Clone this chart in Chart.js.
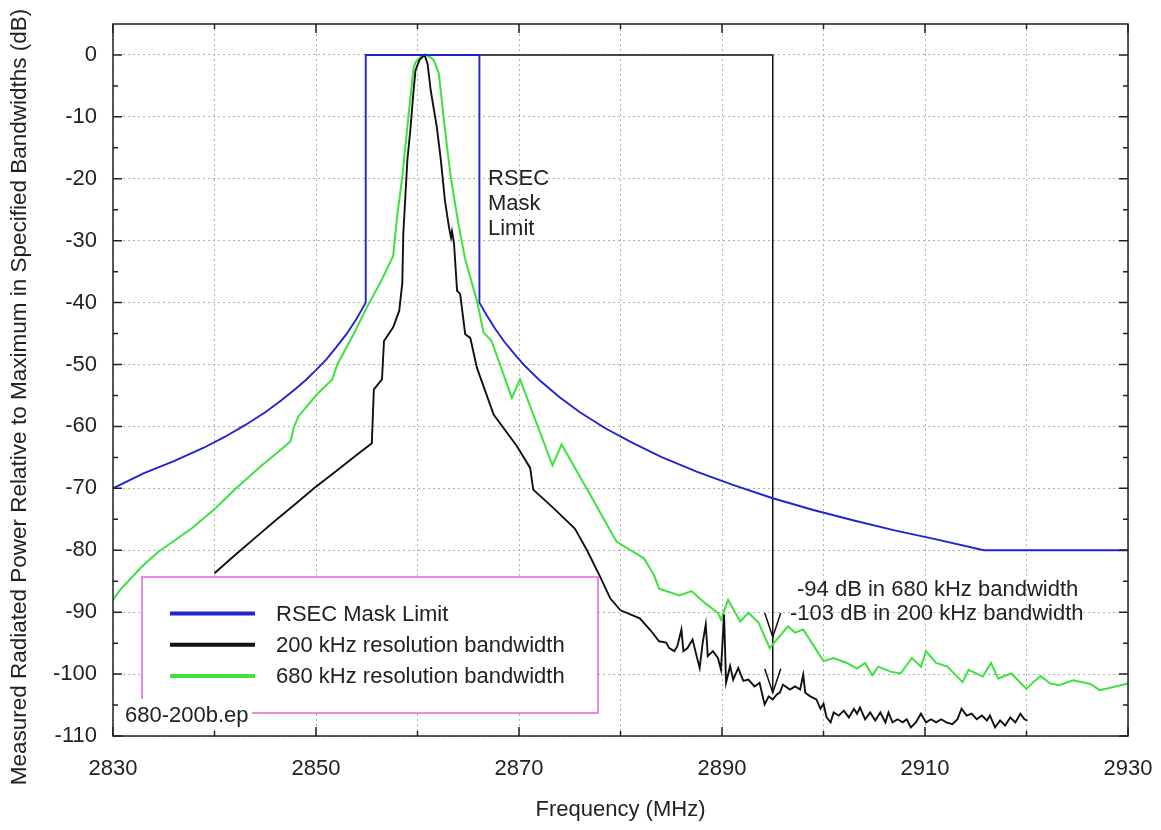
<!DOCTYPE html>
<html>
<head>
<meta charset="utf-8">
<title>680-200b</title>
<script src="https://cdn.jsdelivr.net/npm/chart.js@4.4.1/dist/chart.umd.min.js"></script>
<style>
  html, body { margin: 0; padding: 0; background: #fff; }
  #wrap { width: 1161px; height: 830px; }
</style>
</head>
<body>
<div id="wrap"><canvas id="spectrumChart" width="1161" height="830"></canvas></div>
<script>
// values (MHz / dB)
const maskFreq = [2830, 2833, 2836, 2839, 2841, 2843, 2845, 2846.5, 2848, 2849,
  2850, 2851, 2852, 2853, 2854, 2854.9, 2854.9, 2866.1, 2866.1, 2866.8,
  2867.6, 2868.5, 2869.5, 2870.5, 2872, 2874, 2876, 2878.5, 2881, 2884,
  2887.5, 2891, 2895, 2899, 2903, 2907, 2911, 2915.8, 2930];
const maskDb = [-70, -67.6, -65.6, -63.4, -61.7, -59.8, -57.7, -55.9, -53.9, -52.5,
  -50.9, -49.2, -47.2, -45.1, -42.6, -40, 0, 0, -40, -42.0,
  -44.1, -46.2, -48.2, -50.1, -52.5, -55.3, -57.7, -60.3, -62.5, -64.9,
  -67.3, -69.4, -71.6, -73.5, -75.2, -76.8, -78.2, -80, -80];

const rbw200Freq = [2840, 2842, 2844, 2846, 2848, 2849.8, 2852, 2854, 2855.5, 2855.7,
  2856.5, 2856.7, 2857.6, 2858.2, 2858.5, 2858.6, 2859.0, 2859.3, 2859.6, 2859.8,
  2860.2, 2860.7, 2861.0, 2861.3, 2861.9, 2862.3, 2862.7, 2863.1, 2863.3, 2863.4,
  2863.6, 2863.9, 2864.2, 2864.7, 2865.2, 2865.85, 2867.5, 2869.8, 2871.1, 2871.4,
  2873.4, 2875.5, 2876.7, 2878.0, 2879.0, 2880.0, 2881.9, 2883.0, 2883.8, 2884.5,
  2884.8, 2885.3, 2885.6, 2886.0, 2886.2, 2886.6, 2887.1, 2887.5, 2887.8, 2888.1,
  2888.4, 2888.6, 2889.1, 2889.6, 2889.9, 2890.2, 2890.4, 2890.8, 2891.1, 2891.6,
  2892.1, 2892.6, 2893.2, 2893.7, 2894.2, 2894.6, 2895.0, 2895.4, 2895.7, 2896.0,
  2896.7, 2897.2, 2897.7, 2898.0, 2898.2, 2898.7, 2899.3, 2899.7, 2900.0, 2900.3,
  2900.7, 2901.0, 2901.5, 2902.0, 2902.5, 2903.0, 2903.3, 2903.6, 2904.1, 2904.6,
  2905.1, 2905.6, 2906.1, 2906.4, 2906.8, 2907.3, 2907.8, 2908.2, 2908.6, 2909.1,
  2909.6, 2910.1, 2910.6, 2911.1, 2911.6, 2912.1, 2912.7, 2913.2, 2913.6, 2914.1,
  2914.6, 2915.1, 2915.6, 2916.1, 2916.4, 2916.9, 2917.4, 2917.9, 2918.4, 2918.9,
  2919.4, 2919.8, 2920.1];
const rbw200Db = [-83.7, -80.8, -78.0, -75.2, -72.5, -70.0, -67.2, -64.6, -62.7, -54.0,
  -52.4, -46.2, -44.0, -41.3, -36.9, -28.9, -17.0, -12.0, -6.0, -2.5,
  -0.8, 0, -1.5, -5.7, -11.6, -17.0, -23.5, -27.8, -29.5, -28.5,
  -30.5, -38.1, -38.6, -45.1, -45.7, -50.5, -58.1, -63.2, -66.7, -70.2,
  -73.2, -76.5, -80.0, -84.3, -87.8, -89.7, -91.0, -93.0, -94.7, -94.9,
  -95.8, -96.3, -95.5, -92.8, -96.3, -95.8, -94.4, -97.1, -99.0, -94.9,
  -92.0, -97.1, -96.3, -97.4, -99.3, -90.4, -101.4, -98.7, -100.9, -99.0,
  -101.1, -100.9, -102.0, -101.4, -104.9, -103.6, -104.1, -103.3, -103.0, -101.7,
  -102.5, -102.0, -102.5, -100.1, -103.0, -103.6, -104.1, -105.6, -104.8, -107.0,
  -107.8, -106.2, -106.7, -105.9, -107.0, -105.6, -106.4, -105.4, -107.3, -106.2,
  -107.5, -106.2, -107.8, -106.2, -107.8, -107.3, -107.8, -107.3, -108.6, -107.8,
  -106.4, -107.8, -107.3, -107.8, -107.3, -107.8, -108.1, -107.3, -105.6, -106.7,
  -106.4, -107.3, -106.7, -107.5, -106.7, -108.6, -107.5, -108.3, -107.0, -107.8,
  -106.4, -107.3, -107.5];

const rbw680Freq = [2830, 2830.8, 2831.5, 2832.8, 2834.5, 2836, 2837.8, 2840.1, 2842, 2844.5,
  2846.5, 2847.5, 2847.8, 2848.3, 2850.1, 2851.6, 2852.1, 2853.7, 2855.0, 2856.3,
  2857.6, 2858.0, 2858.5, 2859.1, 2859.6, 2859.8, 2860.3, 2860.9, 2861.6, 2862.1,
  2862.7, 2863.3, 2864.0, 2864.7, 2865.9, 2866.5, 2867.3, 2869.3, 2870.1, 2873.3,
  2874.2, 2877.0, 2879.6, 2881.0, 2882.3, 2883.3, 2883.8, 2885.8, 2887.0, 2888.3,
  2889.6, 2889.9, 2890.6, 2891.8, 2892.6, 2893.6, 2894.7, 2895.0, 2896.5, 2897.2,
  2898.0, 2900.0, 2901.0, 2902.3, 2903.3, 2904.1, 2904.8, 2905.4, 2906.6, 2907.6,
  2908.7, 2909.6, 2910.1, 2911.1, 2912.2, 2913.7, 2914.3, 2915.7, 2916.5, 2917.2,
  2918.5, 2920.0, 2920.8, 2921.4, 2922.3, 2923.2, 2924.6, 2926.3, 2927.2, 2929.3,
  2930];
const rbw680Db = [-88, -86.2, -85, -82.7, -80.2, -78.5, -76.4, -73.2, -70.2, -66.5,
  -63.8, -62.4, -60.2, -58.3, -54.8, -52.4, -50, -45.1, -40.8, -36.9,
  -32.5, -26, -19.7, -10, -2.2, -1.2, -0.3, 0, -0.8, -3.0,
  -12, -20, -27, -33, -40, -44.8, -46.2, -55.4, -52.4, -66.3,
  -62.9, -71, -78.6, -80, -81.3, -84, -86.2, -87.3, -86.6, -88.5,
  -90.1, -91.2, -88.0, -91.5, -90.1, -91.7, -95.8, -95.2, -92.3, -93.3,
  -92.8, -97.9, -97.4, -98.2, -99.1, -98.2, -100.2, -98.8, -99.6, -99.9,
  -97.4, -98.8, -96.3, -98.2, -98.8, -101.3, -99.3, -100.4, -98.2, -100.7,
  -99.9, -102.4, -101.1, -100.3, -101.5, -101.8, -101, -101.6, -102.6, -101.8,
  -101.5];

// pointer from the peak over to 2895 MHz and down to the two readings
const arrowFreq = [2860.8, 2895, 2895];
const arrowDb = [0, 0, -103];
const arrowTipDb = [-94, -103];

const xTickValues = [2830, 2840, 2850, 2860, 2870, 2880, 2890, 2900, 2910, 2920, 2930];
const xTickLabels = [2830, 2850, 2870, 2890, 2910, 2930];
const yTickValues = [-110, -100, -90, -80, -70, -60, -50, -40, -30, -20, -10, 0];
const yMinorTicks = [-105, -95, -85, -75, -65, -55, -45, -35, -25, -15, -5];

const FONT = "'Liberation Sans', Arial, Helvetica, sans-serif";
const TEXT = '#222';

function pts(xs, ys) {
  return xs.map((v, i) => ({ x: v, y: ys[i] }));
}

const notesPlugin = {
  id: 'notes',
  beforeDatasetsDraw(chart) {
    // legend box is opaque over the grid
    const ctx = chart.ctx;
    ctx.save();
    ctx.fillStyle = '#fff';
    ctx.fillRect(142, 577, 456, 136);
    ctx.restore();
  },
  afterDraw(chart) {
    const { ctx, chartArea: a, scales: { x, y } } = chart;
    ctx.save();

    // inward ticks on all four sides + frame
    ctx.strokeStyle = '#222';
    ctx.lineWidth = 1.5;
    ctx.beginPath();
    xTickValues.forEach(v => {
      const px = x.getPixelForValue(v);
      const len = xTickLabels.includes(v) ? 9 : 5;
      ctx.moveTo(px, a.bottom); ctx.lineTo(px, a.bottom - len);
      ctx.moveTo(px, a.top); ctx.lineTo(px, a.top + len);
    });
    yTickValues.concat(yMinorTicks).forEach(v => {
      const py = y.getPixelForValue(v);
      const len = yTickValues.includes(v) ? 9 : 5;
      ctx.moveTo(a.left, py); ctx.lineTo(a.left + len, py);
      ctx.moveTo(a.right, py); ctx.lineTo(a.right - len, py);
    });
    ctx.stroke();
    ctx.strokeRect(a.left, a.top, a.right - a.left, a.bottom - a.top);

    // arrow heads
    ctx.strokeStyle = '#111';
    ctx.lineWidth = 1.5;
    const ax = x.getPixelForValue(arrowFreq[arrowFreq.length - 1]);
    arrowTipDb.forEach(d => {
      const ty = y.getPixelForValue(d);
      ctx.beginPath();
      ctx.moveTo(ax - 8, ty - 24);
      ctx.lineTo(ax, ty);
      ctx.lineTo(ax + 8, ty - 24);
      ctx.stroke();
    });

    // text notes
    ctx.fillStyle = TEXT;
    ctx.font = '22px ' + FONT;
    ctx.textAlign = 'left';
    ctx.textBaseline = 'alphabetic';
    ['RSEC', 'Mask', 'Limit'].forEach((t, i) => ctx.fillText(t, 488, 185 + i * 25));
    ctx.fillText('-94 dB in 680 kHz bandwidth', 797, 596);
    ctx.fillText('-103 dB in 200 kHz bandwidth', 790, 620);

    // legend
    ctx.strokeStyle = '#dd66dd';
    ctx.lineWidth = 1.5;
    ctx.strokeRect(142, 577, 456, 136);
    chart.data.datasets.slice(0, 3).forEach((ds, i) => {
      const ly = 613.5 + i * 31.3;
      ctx.strokeStyle = ds.borderColor;
      ctx.lineWidth = 4;
      ctx.beginPath();
      ctx.moveTo(170, ly); ctx.lineTo(255, ly);
      ctx.stroke();
      ctx.textBaseline = 'middle';
      ctx.fillText(ds.label, 276, ly + 1);
    });

    // file tag sits on a white patch over the box corner
    ctx.fillStyle = '#fff';
    ctx.fillRect(121, 699, 131, 28);
    ctx.fillStyle = TEXT;
    ctx.textBaseline = 'alphabetic';
    ctx.fillText('680-200b.ep', 125, 722);

    // y axis title
    ctx.translate(20, 397);
    ctx.rotate(-Math.PI / 2);
    ctx.textAlign = 'center';
    ctx.textBaseline = 'middle';
    ctx.font = '22.5px ' + FONT;
    ctx.fillText('Measured Radiated Power Relative to Maximum in Specified Bandwidths (dB)', 0, 0);
    ctx.restore();
  }
};

const ctx = document.getElementById('spectrumChart').getContext('2d');
const spectrumChart = new Chart(ctx, {
  type: 'line',
  data: {
    datasets: [
      { label: 'RSEC Mask Limit', data: pts(maskFreq, maskDb), borderColor: '#2323cf', borderWidth: 1.9 },
      { label: '200 kHz resolution bandwidth', data: pts(rbw200Freq, rbw200Db), borderColor: '#111111', borderWidth: 1.9 },
      { label: '680 kHz resolution bandwidth', data: pts(rbw680Freq, rbw680Db), borderColor: '#3ee23e', borderWidth: 2 },
      { label: 'pointer', data: pts(arrowFreq, arrowDb), borderColor: '#111111', borderWidth: 1.5 }
    ]
  },
  options: {
    responsive: false,
    animation: false,
    devicePixelRatio: 1,
    elements: { point: { radius: 0 }, line: { tension: 0, fill: false } },
    layout: { padding: { left: 0, right: 33, top: 24, bottom: 0 } },
    plugins: { legend: { display: false }, tooltip: { enabled: false } },
    scales: {
      x: {
        type: 'linear',
        min: 2830,
        max: 2930,
        afterBuildTicks: s => { s.ticks = xTickValues.map(v => ({ value: v })); },
        afterFit: s => { s.height = 94; s.paddingLeft = 0; s.paddingRight = 0; },
        grid: { color: '#b0b0b0', lineWidth: 1, drawTicks: false },
        border: { display: false, dash: [2, 3] },
        ticks: {
          autoSkip: false,
          maxRotation: 0,
          padding: 20,
          color: TEXT,
          font: { family: FONT, size: 22 },
          callback: v => xTickLabels.includes(v) ? String(v) : ''
        },
        title: {
          display: true,
          text: 'Frequency (MHz)',
          color: TEXT,
          font: { family: FONT, size: 22 },
          padding: { top: 0, bottom: 7 }
        }
      },
      y: {
        type: 'linear',
        min: -110,
        max: 5,
        afterBuildTicks: s => { s.ticks = yTickValues.map(v => ({ value: v })); },
        afterFit: s => { s.width = 113; s.paddingTop = 0; s.paddingBottom = 0; },
        grid: { color: '#b0b0b0', lineWidth: 1, drawTicks: false },
        border: { display: false, dash: [2, 3] },
        ticks: {
          padding: 16,
          color: TEXT,
          font: { family: FONT, size: 22 },
          callback: v => String(v)
        }
      }
    }
  },
  plugins: [notesPlugin]
});
</script>
</body>
</html>
